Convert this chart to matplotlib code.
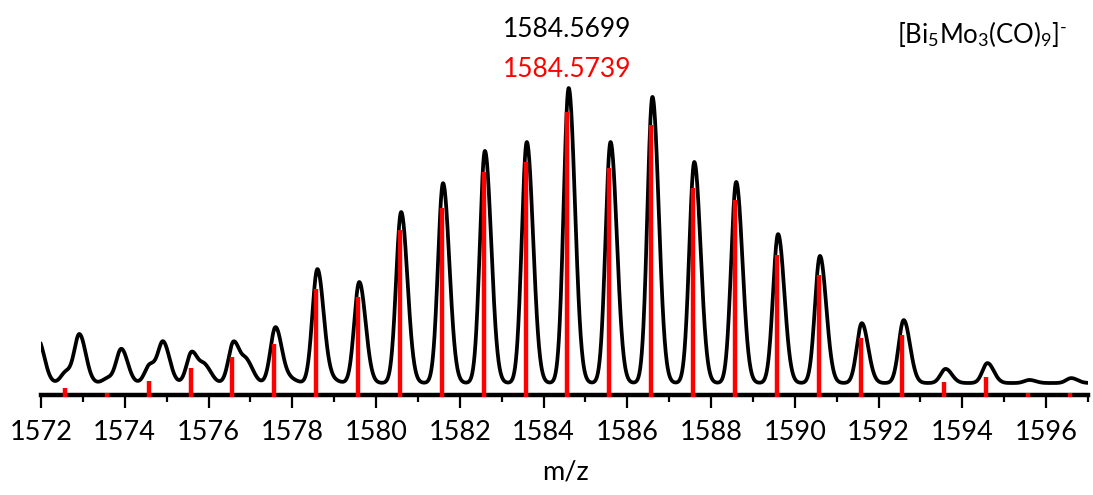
import matplotlib
matplotlib.use('Agg')
import matplotlib.pyplot as plt
from matplotlib.ticker import MultipleLocator
import numpy as np

plt.rcParams['font.family'] = ['Lato', 'DejaVu Sans']
plt.rcParams['mathtext.fontset'] = 'custom'
plt.rcParams['mathtext.rm'] = 'Lato'
plt.rcParams['mathtext.it'] = 'Lato:italic'

# measured spectrum: peak centres (m/z) and heights above baseline (arb. units)
exp_mz = [1571.93, 1572.60, 1572.92, 1573.60, 1573.92, 1574.60, 1574.92,
          1575.60, 1575.92, 1576.60, 1576.92, 1577.60, 1577.95, 1578.60,
          1578.95, 1579.60, 1580.60, 1581.60, 1582.60, 1583.60, 1584.60,
          1585.60, 1586.60, 1587.60, 1588.60, 1589.60, 1590.60, 1591.60,
          1592.60, 1593.60, 1594.60, 1595.60, 1596.60]
exp_int = [14.0, 3.6, 15.6, 1.6, 11.0, 5.9, 13.0,
           10.1, 5.2, 13.4, 6.5, 18.2, 1.3, 37.1,
           1.0, 32.9, 55.7, 65.1, 75.6, 78.5, 96.1,
           78.5, 93.2, 72.0, 65.5, 48.5, 41.4, 19.5,
           20.5, 4.6, 6.5, 1.0, 1.6]
baseline = 3.9

# simulated isotope pattern (red sticks)
sim_mz = [1572.57, 1573.57, 1574.57, 1575.57, 1576.57, 1577.57, 1578.57,
          1579.57, 1580.57, 1581.57, 1582.57, 1583.57, 1584.57, 1585.57,
          1586.57, 1587.57, 1588.57, 1589.57, 1590.57, 1591.57, 1592.57,
          1593.57, 1594.57, 1595.57, 1596.57]
sim_int = [2.3, 0.5, 4.6, 8.8, 12.4, 16.6, 34.6,
           31.9, 53.7, 60.9, 72.6, 75.9, 92.2, 73.9,
           87.9, 67.4, 63.5, 45.6, 39.1, 18.6, 19.5,
           4.2, 5.9, 0.8, 0.8]

label_exp = '1584.5699'
label_sim = '1584.5739'
formula = r'[Bi$_5$Mo$_3$(CO)$_9$]$^{\text{-}}$'

# build the profile from the measured peaks (slightly tailing peak shape)
x = np.linspace(1571.5, 1597.2, 4000)
y = np.full_like(x, baseline)
for c, h in zip(exp_mz, exp_int):
    s = np.where(x < c, 0.12, 0.15)
    y += h * np.exp(-0.5 * ((x - c) / s) ** 2)

W, H = 1093, 495
fig = plt.figure(figsize=(W / 100, H / 100), dpi=100)
ax = fig.add_axes([41 / W, 1 - 395 / H, (1088 - 41) / W, 395 / H])

ax.plot(x, y, color='black', lw=2.7, zorder=3, solid_joinstyle='round')
ax.vlines(sim_mz, -0.7, sim_int, colors='#ff0000', lw=3.2, zorder=5, clip_on=False)

ax.set_xlim(1572, 1597)
ax.set_ylim(0, 395 / 3.07)

for s in ['left', 'right', 'top']:
    ax.spines[s].set_visible(False)
ax.spines['bottom'].set_linewidth(3.2)
ax.spines['bottom'].set_zorder(4)
ax.set_yticks([])
ax.xaxis.set_major_locator(MultipleLocator(2))
ax.xaxis.set_minor_locator(MultipleLocator(1))
ax.tick_params(axis='x', which='major', direction='out', length=9, width=1.6,
               labelsize=19.5, pad=9)
ax.tick_params(axis='x', which='minor', direction='out', length=5, width=1.6)

fig.text(565 / W, 1 - 472 / H, 'm/z', ha='center', va='center', fontsize=19.5)
fig.text(567 / W, 1 - 37 / H, label_exp, ha='center', va='baseline',
         fontsize=19, color='black')
fig.text(567 / W, 1 - 77 / H, label_sim, ha='center', va='baseline',
         fontsize=19, color='#ff0000')
fig.text(897 / W, 1 - 43 / H, formula, ha='left', va='baseline', fontsize=18.5)

fig.savefig('out.png', dpi=100)
